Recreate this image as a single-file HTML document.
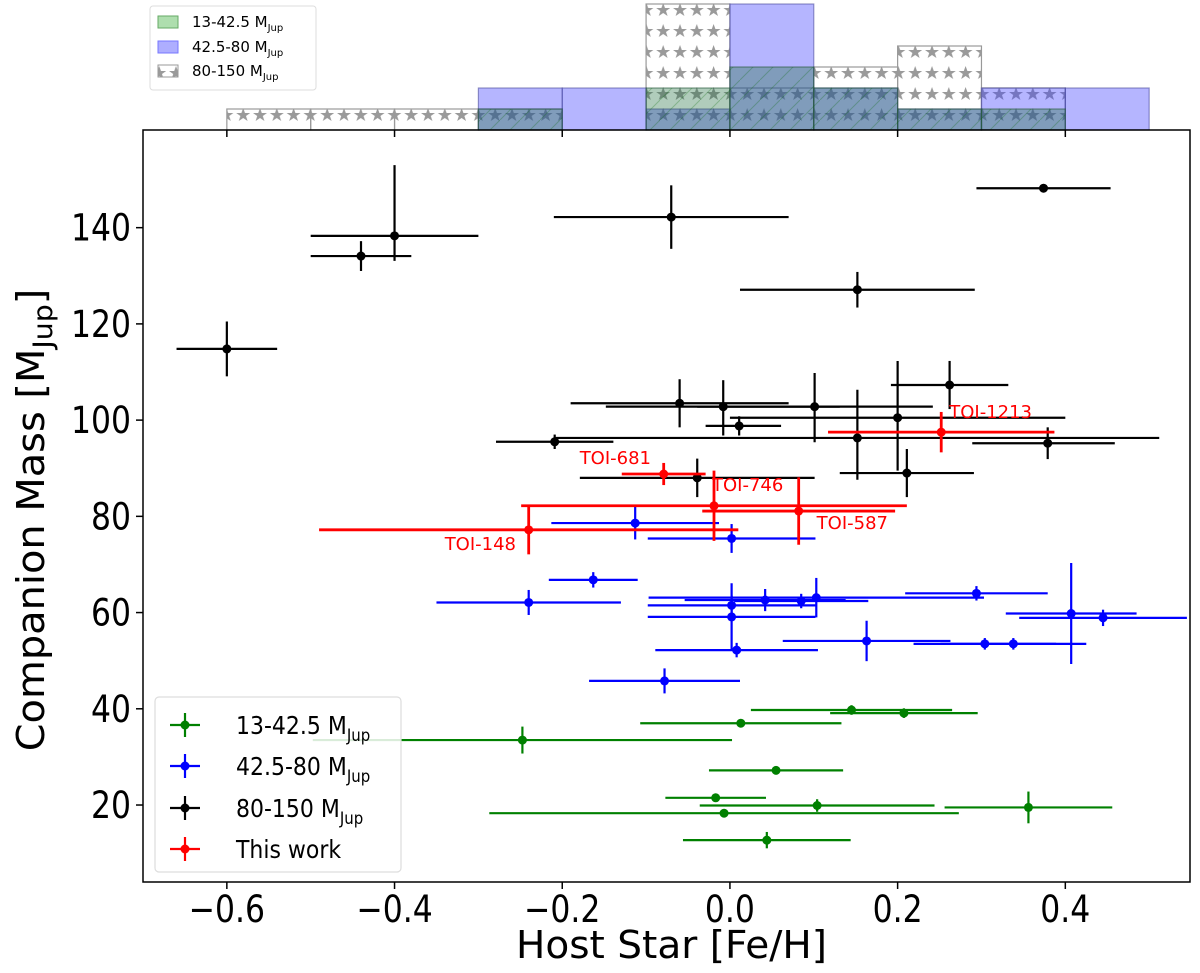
<!DOCTYPE html>
<html><head><meta charset="utf-8">
<style>
html,body{margin:0;padding:0;background:#fff;}
svg{display:block;font-family:"DejaVu Sans","Liberation Sans",sans-serif;}
</style></head>
<body>
<svg id="chart" width="1200" height="973" viewBox="0 0 1200 973" xmlns="http://www.w3.org/2000/svg">
<defs>
<pattern id="stars" patternUnits="userSpaceOnUse" width="16.8" height="21" x="0" y="0">
<polygon points="8,3 9.8,8 15,8 10.8,11 12.4,16 8,13 3.6,16 5.2,11 1,8 6.2,8" fill="#9a9a9a"/>
</pattern>
<pattern id="hatchg" patternUnits="userSpaceOnUse" width="20" height="20">
<line x1="0" y1="20" x2="20" y2="0" stroke="rgba(0,100,0,0.25)" stroke-width="1"/>
</pattern>
</defs>
<g id="hist"></g>
<g id="main"></g>
<g id="axes"></g>
</svg>
<script>
// ---- data ----
const xTicks = [-0.6,-0.4,-0.2,0.0,0.2,0.4];
const xTickLabels = ["\u22120.6","\u22120.4","\u22120.2","0.0","0.2","0.4"];
const yTicks = [20,40,60,80,100,120,140];
const yTickLabels = ["20","40","60","80","100","120","140"];

const histEdges = [-0.6,-0.5,-0.4,-0.3,-0.2,-0.1,0.0,0.1,0.2,0.3,0.4,0.5];
const histGray  = [1,1,1,1,0,6,2,3,4,2,0];
const histBlue  = [0,0,0,2,2,1,6,2,1,2,2];
const histGreen = [0,0,0,1,0,2,3,2,1,1,0];

// black: 80-150 MJup
const blackX  = [-0.60,-0.44,-0.40,-0.07,0.374,0.152,0.262,-0.06,-0.008,0.011,0.101,0.20,0.152,-0.209,0.211,0.379,-0.039];
const blackY  = [114.8,134.1,138.3,142.2,148.2,127.1,107.3,103.5,102.8,98.8,102.8,100.5,96.3,95.5,89.0,95.2,88.0];
const blackXlo= [0.06,0.06,0.10,0.14,0.08,0.14,0.07,0.13,0.14,0.04,0.14,0.20,0.36,0.07,0.08,0.09,0.14];
const blackXhi= [0.06,0.06,0.10,0.14,0.08,0.14,0.07,0.13,0.25,0.05,0.03,0.20,0.36,0.07,0.08,0.08,0.14];
const blackYlo= [5.7,3.1,5.2,6.6,0.3,3.7,5.0,5.0,6.0,2.0,7.4,11.0,8.7,1.5,5.0,3.3,4.0];
const blackYhi= [5.7,3.1,14.7,6.6,0.3,3.7,5.0,5.0,5.5,2.0,7.0,11.8,10.0,1.5,5.0,3.3,4.0];

// blue: 42.5-80 MJup
const blueX  = [-0.113,0.002,-0.163,-0.24,0.002,0.002,0.042,0.085,0.103,0.294,0.407,0.445,0.163,0.304,0.338,0.008,-0.078];
const blueY  = [78.6,75.4,66.8,62.1,61.5,59.1,62.6,62.4,63.1,64.0,59.8,58.9,54.1,53.5,53.5,52.2,45.8];
const blueXe = [0.10,0.10,0.053,0.11,0.10,0.10,0.096,0.08,0.20,0.085,0.078,0.10,0.10,0.085,0.087,0.097,0.09];
const blueYe = [3.4,3.0,1.6,2.6,2.0,7.0,2.3,1.5,4.1,1.5,10.5,1.7,4.2,1.2,1.2,1.5,2.6];

// green: 13-42.5 MJup
const greenX  = [0.145,0.2075,0.013,-0.2475,0.055,-0.017,0.104,0.356,-0.007,0.044];
const greenY  = [39.75,39.1,37.0,33.5,27.2,21.5,19.9,19.5,18.3,12.7];
const greenXe = [0.12,0.088,0.12,0.25,0.08,0.06,0.14,0.10,0.28,0.10];
const greenYe = [1.0,1.0,0.8,2.8,0.8,0.8,1.3,3.3,0.8,1.7];

// red: this work
const redNames = ["TOI-681","TOI-746","TOI-148","TOI-587","TOI-1213"];
const redX  = [-0.079,-0.019,-0.24,0.082,0.252];
const redY  = [88.8,82.2,77.2,81.1,97.5];
const redXe = [0.05,0.23,0.25,0.115,0.135];
const redYe = [2.3,7.3,5.1,7.0,4.2];

// ---- scales ----
const X0=143, X1=1190, Y0=130, Y1=882;
const xMin=-0.7, xMax=0.5487, yMin=4.0, yMax=160.3;
const sx = v => X0 + (v-xMin)/(xMax-xMin)*(X1-X0);
const sy = v => Y1 - (v-yMin)/(yMax-yMin)*(Y1-Y0);
const HB=130, HU=21;
const hy = c => HB - c*HU;
const NS="http://www.w3.org/2000/svg";
function mk(tag, attrs, parent){const e=document.createElementNS(NS,tag);for(const k in attrs)e.setAttribute(k,attrs[k]);parent.appendChild(e);return e;}

const hist=document.getElementById('hist');
const main=document.getElementById('main');
const axes=document.getElementById('axes');

// ---- histogram ----
function drawHist(counts, fill, stroke, name){
  for(let i=0;i<counts.length;i++){
    if(!counts[i]) continue;
    const x=sx(histEdges[i]), w=sx(histEdges[i+1])-x;
    const r=mk('rect',{x:x,y:hy(counts[i]),width:w,height:counts[i]*HU,fill:fill,stroke:stroke,'stroke-width':1.2},hist);
    
    
  }
}
drawHist(histGray,'url(#stars)','#999','hist-80-150');
drawHist(histBlue,'rgba(60,60,255,0.38)','rgba(80,80,160,0.6)','hist-42-80');
drawHist(histGreen,'rgba(30,110,60,0.35)','rgba(40,90,60,0.6)','hist-13-42');
for(let i=0;i<histGreen.length;i++){
  if(!histGreen[i]) continue;
  const x=sx(histEdges[i]), w=sx(histEdges[i+1])-x;
  const r=mk('rect',{x:x,y:hy(histGreen[i]),width:w,height:histGreen[i]*HU,fill:'url(#hatchg)'},hist);
  
  
}

// hist legend
const hl=mk('g',{},hist);


mk('rect',{x:150,y:6,width:166,height:84,rx:3,fill:'#fff',stroke:'#ddd','stroke-width':1},hl);
const hlItems=[['rgba(120,200,120,0.6)','#6a6','13-42.5 M','Jup',22],['rgba(120,120,255,0.6)','#77f','42.5-80 M','Jup',47],['url(#stars)','#999','80-150 M','Jup',71]];
hlItems.forEach((it,i)=>{
  const g=mk('g',{},hl);
  
  
  mk('rect',{x:158,y:it[4]-6,width:20,height:12,fill:it[0],stroke:it[1]},g);
  const t=mk('text',{x:192,y:it[4]+5,'font-size':15,fill:'#000'},g);
  t.textContent=it[2];
  const s=mk('tspan',{'font-size':10,dy:4},t); s.textContent=it[3];
});

// ---- main axes frame ----
const frame=mk('rect',{x:X0,y:Y0,width:X1-X0,height:Y1-Y0,fill:'none',stroke:'#000','stroke-width':1.5},axes);


xTicks.forEach((v,i)=>{
  const x=sx(v);
  mk('line',{x1:x,y1:Y1,x2:x,y2:Y1+7,stroke:'#000','stroke-width':1.5},axes);
  mk('line',{x1:x,y1:Y0,x2:x,y2:Y0+7,stroke:'#000','stroke-width':1.5},axes);
  const t=mk('text',{x:x,y:Y1+40,'font-size':37,'text-anchor':'middle',fill:'#000',transform:`translate(${x},0) scale(0.85,1) translate(${-x},0)`},axes);
  
  
  t.textContent=xTickLabels[i];
});
yTicks.forEach((v,i)=>{
  const y=sy(v);
  mk('line',{x1:X0-7,y1:y,x2:X0,y2:y,stroke:'#000','stroke-width':1.5},axes);
  const tx=X0-12;
  const t=mk('text',{x:tx,y:y+13,'font-size':37,'text-anchor':'end',fill:'#000',transform:`translate(${tx},0) scale(0.85,1) translate(${-tx},0)`},axes);
  
  
  t.textContent=yTickLabels[i];
});
const xl=mk('text',{x:516,y:958,'font-size':38,fill:'#000',textLength:311,lengthAdjust:'spacingAndGlyphs'},axes);


xl.textContent='Host Star [Fe/H]';
const yl=mk('text',{x:0,y:0,'font-size':38,'text-anchor':'middle',fill:'#000',transform:'translate(44,520) rotate(-90) scale(1.05,1)'},axes);


yl.appendChild(document.createTextNode('Companion Mass [M'));
const ys=mk('tspan',{'font-size':27,dy:8},yl); ys.textContent='Jup';
const ye=mk('tspan',{dy:-8},yl); ye.textContent=']';

// ---- error bars ----
function eb(x,y,xlo,xhi,ylo,yhi,color,name,lw){
  const g=mk('g',{},main);
  
  
  mk('line',{x1:sx(x-xlo),y1:sy(y),x2:sx(x+xhi),y2:sy(y),stroke:color,'stroke-width':lw},g);
  mk('line',{x1:sx(x),y1:sy(y-ylo),x2:sx(x),y2:sy(y+yhi),stroke:color,'stroke-width':lw},g);
  mk('circle',{cx:sx(x),cy:sy(y),r:4.5,fill:color},g);
}
greenX.forEach((v,i)=>eb(v,greenY[i],greenXe[i],greenXe[i],greenYe[i],greenYe[i],'#008000','green-point-'+i,2.2));
blueX.forEach((v,i)=>eb(v,blueY[i],blueXe[i],blueXe[i],blueYe[i],blueYe[i],'#0000ff','blue-point-'+i,2.2));
blackX.forEach((v,i)=>eb(v,blackY[i],blackXlo[i],blackXhi[i],blackYlo[i],blackYhi[i],'#000','black-point-'+i,2.2));
redX.forEach((v,i)=>eb(v,redY[i],redXe[i],redXe[i],redYe[i],redYe[i],'#ff0000','red-point-'+i,2.8));
const labOff=[[-84,-10],[-2,-15],[-84,20],[18,18],[8,-14]];
redNames.forEach((n,i)=>{
  const t=mk('text',{x:sx(redX[i])+labOff[i][0],y:sy(redY[i])+labOff[i][1],'font-size':18,fill:'#ff0000'},main);
  
  
  t.textContent=n;
});

// ---- main legend ----
const lg=mk('g',{},axes);


mk('rect',{x:155,y:697,width:246,height:175,rx:4,fill:'rgba(255,255,255,0.85)',stroke:'#ddd','stroke-width':1.2},lg);
const lgItems=[['#008000','13-42.5 M','Jup',725],['#0000ff','42.5-80 M','Jup',766],['#000','80-150 M','Jup',808],['#ff0000','This work','',849]];
lgItems.forEach((it,i)=>{
  const g=mk('g',{},lg);
  
  
  mk('line',{x1:170,y1:it[3],x2:200,y2:it[3],stroke:it[0],'stroke-width':2.2},g);
  mk('line',{x1:185,y1:it[3]-12,x2:185,y2:it[3]+12,stroke:it[0],'stroke-width':2.2},g);
  mk('circle',{cx:185,cy:it[3],r:4.5,fill:it[0]},g);
  const t=mk('text',{x:236,y:it[3]+9,'font-size':25,fill:'#000',transform:'translate(236,0) scale(0.88,1) translate(-236,0)'},g);
  t.textContent=it[1];
  if(it[2]){const s=mk('tspan',{'font-size':17,dy:7},t); s.textContent=it[2];}
});
</script>
</body></html>
